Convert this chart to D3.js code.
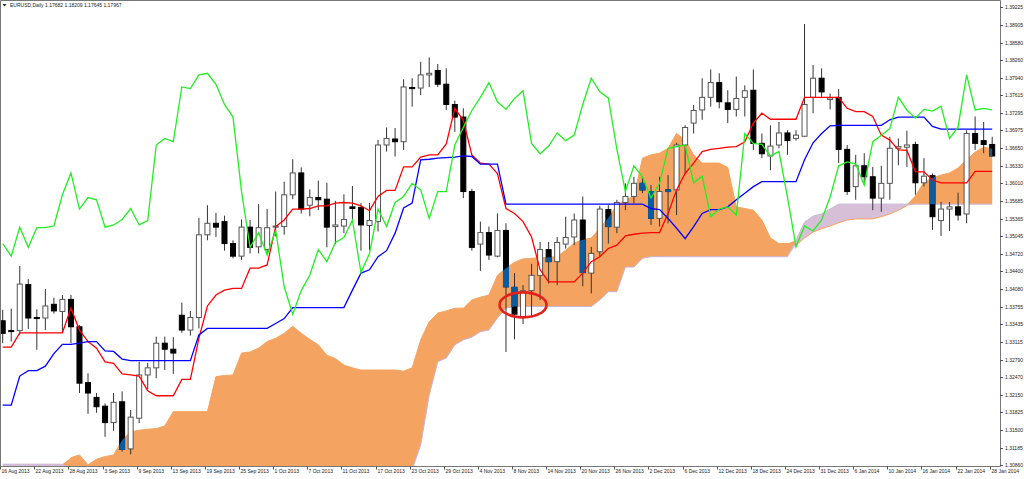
<!DOCTYPE html>
<html><head><meta charset="utf-8">
<script src="https://cdn.jsdelivr.net/npm/d3@7"></script>
<style>body{margin:0;background:#fff;}svg{display:block;}text{font-family:"Liberation Sans",Arial,sans-serif;}</style>
</head><body><svg id="c" width="1024" height="479"></svg>
<script>
// ---- DATA (EURUSD Daily, 16 Aug 2013 - 28 Jan 2014) ----
const openP = [1.3350,1.3332,1.3332,1.3416,1.3356,1.3355,1.3380,1.3367,1.3389,1.3339,
1.3237,1.3210,1.3194,1.3164,1.3202,1.3116,1.3172,1.3251,1.3264,1.3309,
1.3298,1.3360,1.3333,1.3356,1.3507,1.3528,1.3531,1.3491,1.3468,1.3521,
1.3485,1.3480,1.3521,1.3522,1.3580,1.3620,1.3561,1.3575,1.3572,1.3522,
1.3523,1.3558,1.3557,1.3524,1.3531,1.3671,1.3682,1.3677,1.3776,1.3775,
1.3799,1.3807,1.3782,1.3745,1.3722,1.3586,1.3490,1.3511,1.3468,1.3515,
1.3411,1.3356,1.3405,1.3433,1.3480,1.3458,1.3490,1.3503,1.3534,1.3437,
1.3476,1.3553,1.3521,1.3566,1.3577,1.3601,1.3586,1.3537,1.3589,1.3589,
1.3671,1.3711,1.3735,1.3758,1.3785,1.3748,1.3736,1.3758,1.3771,1.3674,
1.3651,1.3671,1.3693,1.3683,1.3687,1.3758,1.3793,1.3754,1.3758,1.3663,
1.3595,1.3633,1.3613,1.3574,1.3601,1.3665,1.3667,1.3672,1.3602,1.3615,
1.3533,1.3554,1.3558,1.3545,1.3692,1.3679,1.3672];
const highP = [1.3370,1.3372,1.3450,1.3426,1.3371,1.3408,1.3392,1.3397,1.3397,1.3342,
1.3254,1.3218,1.3199,1.3218,1.3221,1.3187,1.3275,1.3273,1.3321,1.3321,
1.3320,1.3383,1.3368,1.3538,1.3561,1.3547,1.3542,1.3497,1.3535,1.3534,
1.3563,1.3554,1.3586,1.3604,1.3645,1.3630,1.3590,1.3606,1.3602,1.3569,
1.3581,1.3596,1.3565,1.3565,1.3680,1.3703,1.3702,1.3791,1.3793,1.3823,
1.3831,1.3819,1.3811,1.3752,1.3738,1.3591,1.3531,1.3522,1.3546,1.3528,
1.3437,1.3415,1.3454,1.3494,1.3494,1.3503,1.3540,1.3546,1.3577,1.3485,
1.3560,1.3561,1.3571,1.3601,1.3613,1.3613,1.3598,1.3613,1.3616,1.3675,
1.3707,1.3744,1.3793,1.3809,1.3802,1.3771,1.3796,1.3780,1.3809,1.3692,
1.3707,1.3713,1.3698,1.3698,1.3892,1.3817,1.3811,1.3765,1.3773,1.3671,
1.3653,1.3656,1.3631,1.3633,1.3686,1.3683,1.3697,1.3677,1.3647,1.3619,
1.3567,1.3567,1.3584,1.3698,1.3723,1.3713,1.3686];
const lowP = [1.3309,1.3312,1.3325,1.3335,1.3297,1.3333,1.3363,1.3329,1.3309,1.3218,
1.3180,1.3182,1.3138,1.3149,1.3111,1.3106,1.3163,1.3225,1.3245,1.3260,
1.3253,1.3328,1.3323,1.3336,1.3497,1.3503,1.3478,1.3464,1.3461,1.3473,
1.3473,1.3472,1.3504,1.3507,1.3572,1.3546,1.3541,1.3552,1.3484,1.3490,
1.3510,1.3529,1.3478,1.3479,1.3513,1.3659,1.3650,1.3662,1.3741,1.3762,
1.3777,1.3777,1.3735,1.3695,1.3574,1.3478,1.3441,1.3461,1.3466,1.3293,
1.3316,1.3344,1.3356,1.3388,1.3418,1.3415,1.3482,1.3488,1.3413,1.3400,
1.3468,1.3491,1.3510,1.3552,1.3565,1.3583,1.3525,1.3522,1.3528,1.3543,
1.3619,1.3692,1.3717,1.3741,1.3738,1.3711,1.3723,1.3723,1.3662,1.3647,
1.3625,1.3665,1.3653,1.3679,1.3686,1.3729,1.3759,1.3736,1.3638,1.3580,
1.3571,1.3598,1.3552,1.3549,1.3571,1.3634,1.3631,1.3580,1.3595,1.3516,
1.3505,1.3514,1.3533,1.3528,1.3662,1.3656,1.3650];
const closeP = [1.3327,1.3331,1.3417,1.3355,1.3354,1.3377,1.3368,1.3389,1.3339,1.3236,
1.3218,1.3193,1.3164,1.3201,1.3115,1.3174,1.3251,1.3264,1.3309,1.3298,
1.3291,1.3333,1.3356,1.3507,1.3528,1.3521,1.3491,1.3468,1.3521,1.3484,
1.3520,1.3520,1.3523,1.3580,1.3620,1.3554,1.3575,1.3571,1.3521,1.3525,
1.3535,1.3555,1.3525,1.3533,1.3671,1.3683,1.3677,1.3777,1.3774,1.3799,
1.3802,1.3782,1.3745,1.3722,1.3586,1.3484,1.3511,1.3470,1.3515,1.3412,
1.3362,1.3405,1.3433,1.3480,1.3458,1.3493,1.3502,1.3534,1.3438,1.3473,
1.3554,1.3522,1.3566,1.3577,1.3601,1.3589,1.3537,1.3586,1.3586,1.3671,
1.3703,1.3734,1.3758,1.3785,1.3750,1.3736,1.3756,1.3770,1.3674,1.3655,
1.3669,1.3693,1.3679,1.3689,1.3745,1.3793,1.3768,1.3757,1.3663,1.3586,
1.3633,1.3613,1.3574,1.3601,1.3665,1.3668,1.3671,1.3602,1.3614,1.3540,
1.3554,1.3558,1.3543,1.3692,1.3674,1.3672,1.3651];
// Tenkan-sen (red)
const tenkan = [1.3302,1.3302,1.3328,1.3328,1.3328,1.3328,1.3328,1.3328,1.3373,1.3333,
1.3312,1.3300,1.3275,1.3272,1.3253,1.3251,1.3249,1.3222,1.3213,1.3213,
1.3213,1.3243,1.3243,1.3318,1.3377,1.3397,1.3406,1.3409,1.3409,1.3446,
1.3446,1.3452,1.3522,1.3534,1.3554,1.3554,1.3555,1.3560,1.3560,1.3565,
1.3566,1.3565,1.3560,1.3551,1.3577,1.3588,1.3588,1.3631,1.3631,1.3649,
1.3653,1.3653,1.3673,1.3738,1.3716,1.3653,1.3638,1.3636,1.3619,1.3555,
1.3546,1.3531,1.3503,1.3443,1.3421,1.3421,1.3421,1.3421,1.3437,1.3458,
1.3467,1.3482,1.3488,1.3505,1.3508,1.3510,1.3511,1.3511,1.3546,1.3589,
1.3619,1.3638,1.3659,1.3663,1.3665,1.3667,1.3668,1.3677,1.3711,1.3729,
1.3718,1.3718,1.3718,1.3718,1.3758,1.3758,1.3758,1.3758,1.3758,1.3738,
1.3732,1.3732,1.3723,1.3689,1.3680,1.3662,1.3661,1.3622,1.3622,1.3607,
1.3602,1.3602,1.3602,1.3602,1.3623,1.3623,1.3623];
// Kijun-sen (blue)
const kijun = [1.3196,1.3196,1.3249,1.3259,1.3259,1.3267,1.3290,1.3307,1.3307,1.3309,
1.3312,1.3312,1.3295,1.3294,1.3280,1.3277,1.3277,1.3277,1.3277,1.3277,
1.3277,1.3277,1.3277,1.3324,1.3336,1.3336,1.3336,1.3336,1.3336,1.3336,
1.3336,1.3336,1.3345,1.3354,1.3374,1.3374,1.3374,1.3374,1.3374,1.3374,
1.3374,1.3406,1.3437,1.3443,1.3467,1.3478,1.3510,1.3556,1.3565,1.3644,
1.3645,1.3647,1.3648,1.3649,1.3651,1.3650,1.3636,1.3636,1.3636,1.3563,
1.3563,1.3563,1.3563,1.3563,1.3563,1.3563,1.3563,1.3563,1.3563,1.3563,
1.3563,1.3563,1.3563,1.3563,1.3563,1.3563,1.3555,1.3553,1.3537,1.3519,
1.3500,1.3522,1.3546,1.3553,1.3553,1.3558,1.3571,1.3583,1.3595,1.3604,
1.3604,1.3604,1.3604,1.3604,1.3644,1.3675,1.3692,1.3706,1.3707,1.3707,
1.3707,1.3707,1.3707,1.3707,1.3717,1.3722,1.3722,1.3722,1.3722,1.3705,
1.3700,1.3700,1.3700,1.3700,1.3700,1.3700,1.3700];
// Chikou span (green)
const chikou = [1.3491,1.3468,1.3521,1.3484,1.3520,1.3520,1.3523,1.3580,1.3620,1.3554,
1.3575,1.3571,1.3521,1.3525,1.3535,1.3555,1.3525,1.3533,1.3671,1.3683,
1.3677,1.3777,1.3774,1.3799,1.3802,1.3782,1.3745,1.3722,1.3586,1.3484,
1.3511,1.3470,1.3515,1.3412,1.3362,1.3405,1.3433,1.3480,1.3458,1.3493,
1.3502,1.3534,1.3438,1.3473,1.3554,1.3522,1.3566,1.3577,1.3601,1.3589,
1.3537,1.3586,1.3586,1.3671,1.3703,1.3734,1.3758,1.3785,1.3750,1.3736,
1.3756,1.3770,1.3674,1.3655,1.3669,1.3693,1.3679,1.3689,1.3745,1.3793,
1.3768,1.3757,1.3663,1.3586,1.3633,1.3613,1.3574,1.3601,1.3665,1.3668,
1.3671,1.3602,1.3614,1.3540,1.3554,1.3558,1.3543,1.3692,1.3674,1.3672,
1.3651,1.3659,1.3576,1.3485,1.3523,1.3514,1.3534,1.3576,1.3633,1.3640,
1.3636,1.3598,1.3677,1.3689,1.3701,1.3758,1.3735,1.3720,1.3736,1.3733,
1.3742,1.3683,1.3704,1.3799,1.3735,1.3738,1.3735];
// Senkou span A / B (cloud edges)
const spanA = [1.3075,1.3075,1.3075,1.3075,1.3075,1.3075,1.3075,1.3075,1.3100,1.3105,
1.3087,1.3097,1.3102,1.3105,1.3132,1.3147,1.3150,1.3152,1.3153,1.3158,
1.3184,1.3184,1.3184,1.3184,1.3184,1.3248,1.3250,1.3251,1.3291,1.3293,
1.3300,1.3312,1.3318,1.3327,1.3340,1.3327,1.3316,1.3306,1.3287,1.3281,
1.3269,1.3264,1.3260,1.3260,1.3260,1.3260,1.3260,1.3258,1.3264,1.3315,
1.3348,1.3364,1.3368,1.3373,1.3373,1.3388,1.3393,1.3397,1.3433,1.3446,
1.3457,1.3463,1.3464,1.3465,1.3466,1.3467,1.3479,1.3492,1.3498,1.3501,
1.3519,1.3538,1.3561,1.3571,1.3577,1.3647,1.3653,1.3656,1.3665,1.3692,
1.3680,1.3653,1.3638,1.3638,1.3638,1.3630,1.3558,1.3555,1.3552,1.3534,
1.3501,1.3491,1.3491,1.3488,1.3501,1.3512,1.3518,1.3523,1.3529,1.3534,
1.3536,1.3536,1.3536,1.3540,1.3545,1.3552,1.3560,1.3578,1.3603,1.3611,
1.3616,1.3620,1.3629,1.3644,1.3658,1.3667,1.3664];
const spanB = [1.3088,1.3088,1.3088,1.3088,1.3088,1.3088,1.3088,1.3088,1.3078,1.3078,
1.3078,1.3078,1.3078,1.3078,1.3078,1.3078,1.3078,1.3078,1.3078,1.3078,
1.3078,1.3078,1.3078,1.3078,1.3078,1.3078,1.3078,1.3078,1.3078,1.3078,
1.3078,1.3078,1.3078,1.3078,1.3078,1.3078,1.3078,1.3078,1.3078,1.3078,
1.3078,1.3078,1.3078,1.3078,1.3078,1.3078,1.3078,1.3078,1.3078,1.3123,
1.3214,1.3275,1.3282,1.3306,1.3315,1.3320,1.3330,1.3333,1.3355,1.3373,
1.3376,1.3376,1.3376,1.3376,1.3376,1.3376,1.3376,1.3376,1.3376,1.3376,
1.3388,1.3403,1.3403,1.3448,1.3448,1.3464,1.3467,1.3467,1.3467,1.3467,
1.3467,1.3467,1.3467,1.3467,1.3467,1.3467,1.3467,1.3467,1.3467,1.3467,
1.3467,1.3467,1.3467,1.3497,1.3530,1.3541,1.3545,1.3554,1.3563,1.3563,
1.3563,1.3563,1.3563,1.3563,1.3563,1.3563,1.3563,1.3563,1.3563,1.3563,
1.3563,1.3563,1.3563,1.3563,1.3563,1.3563,1.3563];
const dateLabels = ["16 Aug 2013","22 Aug 2013","28 Aug 2013","3 Sep 2013","9 Sep 2013","13 Sep 2013","19 Sep 2013","25 Sep 2013","1 Oct 2013","7 Oct 2013","11 Oct 2013","17 Oct 2013","23 Oct 2013","29 Oct 2013","4 Nov 2013","8 Nov 2013","14 Nov 2013","20 Nov 2013","26 Nov 2013","2 Dec 2013","6 Dec 2013","12 Dec 2013","18 Dec 2013","24 Dec 2013","31 Dec 2013","6 Jan 2014","10 Jan 2014","16 Jan 2014","22 Jan 2014","28 Jan 2014"];
const dateIndex = [0,4,8,12,16,20,24,28,32,36,40,44,48,52,56,60,64,68,72,76,80,84,88,92,96,100,104,108,112,116];
const priceLabels = ["1.39225","1.38905","1.38580","1.38260","1.37940","1.37615","1.37295","1.36975","1.36650","1.36330","1.36010","1.35685","1.35365","1.35045","1.34720","1.34400","1.34080","1.33755","1.33435","1.33115","1.32790","1.32470","1.32150","1.31825","1.31500","1.31185","1.30860"];
const titleText = "EURUSD,Daily  1.17682 1.18209 1.17645 1.17967";
const markedBar = 61, markedPrice = 1.3379;

// ---- DRAW ----
const N = closeP.length, idx = d3.range(N);
const PL = 1, PR = 1000, PT = 1, PB = 466.5;
const x = d3.scaleLinear().domain([0, N - 1]).range([2.7, 992.2]);
const y = d3.scaleLinear().domain([1.30860, 1.39225]).range([465.3, 7.3]);
const svg = d3.select('#c');
svg.append('rect').attr('width', 1024).attr('height', 479).attr('fill', '#fff');
const defs = svg.append('defs');
defs.append('clipPath').attr('id', 'plotClip').append('rect')
  .attr('x', PL).attr('y', PT).attr('width', PR - PL).attr('height', PB - PT);

const areaUp = d3.area().x(i => x(i)).y0(i => y(spanB[i])).y1(i => y(Math.max(spanA[i], spanB[i])));
const areaDn = d3.area().x(i => x(i)).y0(i => y(spanB[i])).y1(i => y(Math.min(spanA[i], spanB[i])));
defs.append('clipPath').attr('id', 'cloudClip').append('path').attr('d', areaUp(idx));

const g = svg.append('g').attr('clip-path', 'url(#plotClip)');
g.append('path').attr('d', areaDn(idx)).attr('fill', '#d8bfd8');
g.append('path').attr('d', areaUp(idx)).attr('fill', '#f4a460');
const lineOf = arr => d3.line().x(i => x(i)).y(i => y(arr[i]))(idx);
g.append('path').attr('d', lineOf(spanA)).attr('fill', 'none').attr('stroke', '#f4a460').attr('stroke-width', 1);
g.append('path').attr('d', lineOf(spanB)).attr('fill', 'none').attr('stroke', '#c9b3d6').attr('stroke-width', 1);

// candles
const bw = 5;
const cg = g.append('g');
cg.selectAll('line.w').data(idx).join('line')
  .attr('x1', i => x(i)).attr('x2', i => x(i))
  .attr('y1', i => y(highP[i])).attr('y2', i => y(lowP[i]))
  .attr('stroke', '#333').attr('stroke-width', 1);
const bodyY = i => y(Math.max(openP[i], closeP[i]));
const bodyH = i => Math.max(1, Math.abs(y(openP[i]) - y(closeP[i])));
cg.selectAll('rect.b').data(idx).join('rect')
  .attr('x', i => x(i) - bw / 2).attr('y', bodyY).attr('width', bw).attr('height', bodyH)
  .attr('fill', i => closeP[i] < openP[i] ? '#000' : '#fff')
  .attr('stroke', i => closeP[i] < openP[i] ? '#000' : '#555').attr('stroke-width', 1);
// bearish bodies inside the cloud show inverted (blue)
const bearIdx = idx.filter(i => closeP[i] < openP[i]);
g.append('g').attr('clip-path', 'url(#cloudClip)').selectAll('rect').data(bearIdx).join('rect')
  .attr('x', i => x(i) - bw / 2 - 0.5).attr('y', i => bodyY(i) - 0.5).attr('width', bw + 1).attr('height', i => bodyH(i) + 1)
  .attr('fill', '#0b5b9f');

// Ichimoku lines
g.append('path').attr('d', lineOf(tenkan)).attr('fill', 'none').attr('stroke', '#ff0000').attr('stroke-width', 1.3);
g.append('path').attr('d', lineOf(kijun)).attr('fill', 'none').attr('stroke', '#0000ff').attr('stroke-width', 1.3);
g.append('path').attr('d', lineOf(chikou)).attr('fill', 'none').attr('stroke', '#22ee22').attr('stroke-width', 1.3);

// annotation ellipse
g.append('ellipse').attr('cx', x(markedBar)).attr('cy', y(markedPrice)).attr('rx', 23.5).attr('ry', 12.5)
  .attr('fill', 'none').attr('stroke', '#e3201b').attr('stroke-width', 2.6);

// frame
svg.append('path').attr('d', `M${PL - 0.5},${PB}V0.5H${PR + 0.5}V${PB}H${PL - 0.5}`)
  .attr('fill', 'none').attr('stroke', '#777').attr('stroke-width', 1);

// price axis
const pa = svg.append('g');
priceLabels.forEach(s => {
  const v = +s, yy = Math.round(y(v)) + 0.5;
  pa.append('line').attr('x1', PR).attr('x2', PR + 3).attr('y1', yy).attr('y2', yy).attr('stroke', '#555');
  pa.append('text').attr('x', PR + 5).attr('y', yy).attr('dy', '0.35em').attr('font-size', 5).attr('fill', '#222').text(s);
});
// date axis
const da = svg.append('g');
dateIndex.forEach((bi, k) => {
  const xx = Math.round(x(bi) - 2.5) + 0.5;
  da.append('line').attr('x1', xx).attr('x2', xx).attr('y1', PB).attr('y2', PB + 3).attr('stroke', '#555');
  da.append('text').attr('x', xx + 1).attr('y', 471).attr('dy', '0.35em').attr('font-size', 5).attr('fill', '#222').text(dateLabels[k]);
});
// title
svg.append('path').attr('d', 'M2.5,4 L6.5,4 L4.5,6.5 Z').attr('fill', '#222');
svg.append('text').attr('x', 10).attr('y', 5.5).attr('dy', '0.35em').attr('font-size', 5).attr('fill', '#222').text(titleText);
</script></body></html>
